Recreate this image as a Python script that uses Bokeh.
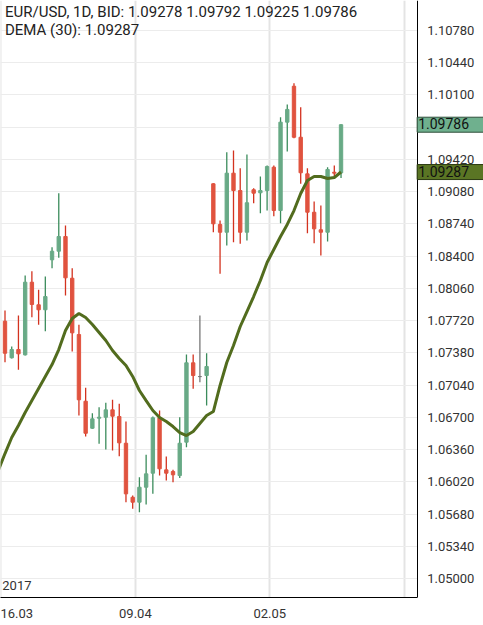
import numpy as np
from bokeh.plotting import figure
from bokeh.models import (ColumnDataSource, FixedTicker, Range1d, Label, PrintfTickFormatter,
                          LinearAxis, BoxAnnotation)
from bokeh.embed import file_html
from bokeh.resources import INLINE

# ---- data (daily EUR/USD candles) ----
opens = [1.07714, 1.07328, 1.07415, 1.07359, 1.08125, 1.07887, 1.07834, 1.08361, 1.08452, 1.08607,
         1.08167, 1.07573, 1.06870, 1.06585, 1.06691, 1.06701, 1.06779, 1.06709, 1.06427, 1.05857,
         1.05805, 1.05963, 1.06111, 1.06695, 1.06146, 1.06129, 1.06086, 1.06438, 1.07275, 1.07130,
         1.07141, 1.09163, 1.08734, 1.08652, 1.09275, 1.09092, 1.08652, 1.09100, 1.09068, 1.09092,
         1.09338, 1.08881, 1.09813, 1.10192, 1.09654, 1.09268, 1.08863, 1.08678, 1.08652, 1.09285,
         1.09278]
highs = [1.07827, 1.07447, 1.07774, 1.08196, 1.08241, 1.08045, 1.08185, 1.08494, 1.09064, 1.08723,
         1.08273, 1.07676, 1.07011, 1.06743, 1.06807, 1.06853, 1.06885, 1.06843, 1.06656, 1.05875,
         1.06068, 1.06305, 1.06709, 1.06772, 1.06287, 1.06146, 1.06701, 1.07363, 1.07363, 1.07774,
         1.07376, 1.09170, 1.08776, 1.09496, 1.09514, 1.09327, 1.09472, 1.09117, 1.09240, 1.09356,
         1.09356, 1.09865, 1.09999, 1.10224, 1.09971, 1.09327, 1.08976, 1.08934, 1.09338, 1.09356,
         1.09792]
lows = [1.07281, 1.07320, 1.07201, 1.07352, 1.07756, 1.07676, 1.07608, 1.08273, 1.08382, 1.07985,
        1.07394, 1.06719, 1.06498, 1.06580, 1.06421, 1.06361, 1.06350, 1.06290, 1.05805, 1.05735,
        1.05699, 1.05780, 1.05893, 1.06086, 1.06034, 1.06016, 1.06060, 1.06385, 1.07001, 1.07070,
        1.06825, 1.08652, 1.08214, 1.08512, 1.08547, 1.08530, 1.08565, 1.08958, 1.08853, 1.08881,
        1.08821, 1.08747, 1.09504, 1.09644, 1.09163, 1.08642, 1.08536, 1.08407, 1.08554, 1.09240,
        1.09225]
closes = [1.07376, 1.07415, 1.07370, 1.08125, 1.07890, 1.07834, 1.07974, 1.08452, 1.08607, 1.08171,
          1.07591, 1.06885, 1.06532, 1.06684, 1.06701, 1.06779, 1.06712, 1.06431, 1.05893, 1.05805,
          1.05963, 1.06104, 1.06695, 1.06157, 1.06111, 1.06094, 1.06427, 1.07275, 1.07141, 1.07130,
          1.07236, 1.08741, 1.08652, 1.09275, 1.09092, 1.08652, 1.08963, 1.09064, 1.09092, 1.09345,
          1.08881, 1.09813, 1.09947, 1.09654, 1.09279, 1.08863, 1.08688, 1.08652, 1.09314, 1.09275,
          1.09786]
# DEMA(30), starting one candle before the first visible one
dema = [1.06139, 1.06318, 1.06487, 1.06614, 1.06751, 1.06877, 1.07004, 1.07131, 1.07257, 1.07415,
        1.07616, 1.07742, 1.07795, 1.07753, 1.07679, 1.07595, 1.07510, 1.07405, 1.07320, 1.07247,
        1.07131, 1.06983, 1.06877, 1.06772, 1.06698, 1.06656, 1.06603, 1.06540, 1.06508, 1.06550,
        1.06635, 1.06719, 1.06761, 1.07036, 1.07278, 1.07458, 1.07658, 1.07816, 1.07974, 1.08143,
        1.08333, 1.08470, 1.08607, 1.08734, 1.08881, 1.09061, 1.09198, 1.09240, 1.09240, 1.09219,
        1.09229, 1.09287]
date_ticks = [0, 20, 40, 60]
date_labels = ["16.03", "09.04", "02.05", ""]
price_ticks = [1.05000, 1.05340, 1.05680, 1.06020, 1.06360, 1.06700, 1.07040, 1.07380, 1.07720,
               1.08060, 1.08400, 1.08740, 1.09080, 1.09420, 1.09760, 1.10100, 1.10440, 1.10780, 1.11120]
header_1 = "EUR/USD, 1D, BID: 1.09278 1.09792 1.09225 1.09786"
header_2 = "DEMA (30): 1.09287"
year_label = "2017"
last_close = 1.09786
last_dema = 1.09287

FONT = "Roboto"
UP_BODY, UP_WICK = "#68aa86", "#3b8c5c"
DN_BODY, DN_WICK = "#e0533f", "#d3321f"
DOJI = "#777777"
X_MIN, X_AXIS, X_MAX = -0.07, 61.93, 71.80   # data extent of frame; price axis position

n = len(opens)
xs = np.arange(n) + 0.6
o = np.array(opens); c = np.array(closes)
body_col = [UP_BODY if cc > oo else (DN_BODY if cc < oo else DOJI) for oo, cc in zip(o, c)]
wick_col = [UP_WICK if cc > oo else (DN_WICK if cc < oo else DOJI) for oo, cc in zip(o, c)]
src = ColumnDataSource(dict(x=xs, high=highs, low=lows, top=np.maximum(o, c), bottom=np.minimum(o, c),
                            body=body_col, wick=wick_col))

p = figure(width=483, height=625, output_backend="svg", toolbar_location=None,
           x_range=Range1d(X_MIN, X_MAX), y_range=Range1d(1.04800, 1.11096),
           y_axis_location=None, min_border_left=0, min_border_top=0,
           min_border_right=0, min_border_bottom=28)
p.outline_line_color = None
p.background_fill_color = "white"

# grids
p.xgrid.ticker = FixedTicker(ticks=date_ticks)
p.xgrid.grid_line_color = "#e4e4e4"
p.xgrid.grid_line_width = 2
p.ygrid.ticker = FixedTicker(ticks=price_ticks)
p.ygrid.grid_line_color = "#ececec"
p.ygrid.grid_line_width = 1
# blank out the price-scale strip right of the axis
p.add_layout(BoxAnnotation(left=X_AXIS, fill_color="white", fill_alpha=1.0, line_color=None,
                           level="underlay"))

p.segment(x0="x", y0="low", x1="x", y1="high", line_color="wick", line_width=1.3, source=src)
p.vbar(x="x", width=0.5, top="top", bottom="bottom", fill_color="body", line_color="body",
       line_width=1, source=src)
p.line(np.arange(-1, n) + 0.6, dema, line_color="#526c1e", line_width=3)

# x axis
xa = p.xaxis[0]
xa.ticker = FixedTicker(ticks=date_ticks)
xa.bounds = (X_MIN, X_AXIS)
xa.major_label_overrides = {t: l for t, l in zip(date_ticks, date_labels)}
xa.major_tick_line_color = None
xa.minor_tick_line_color = None
xa.axis_line_color = "black"
xa.major_label_text_font = FONT
xa.major_label_text_font_size = "13px"
xa.major_label_text_color = "#333333"
xa.major_label_text_align = "left"
xa.major_label_standoff = 5

# price axis, fixed at the right edge of the candle area
ya = LinearAxis(fixed_location=X_AXIS, ticker=FixedTicker(ticks=price_ticks),
                formatter=PrintfTickFormatter(format="%.5f"))
ya.major_tick_line_color = None
ya.minor_tick_line_color = None
ya.axis_line_color = "black"
ya.major_label_text_font = FONT
ya.major_label_text_font_size = "13px"
ya.major_label_text_color = "#333333"
ya.major_label_standoff = 4
p.add_layout(ya, "right")

# header texts
p.add_layout(Label(x=0.6, y=1.10972, text=header_1, text_font=FONT, text_font_size="15px",
                   text_color="#222222", text_baseline="middle"))
p.add_layout(Label(x=0.6, y=1.10781, text=header_2, text_font=FONT, text_font_size="15px",
                   text_color="#222222", text_baseline="middle"))
p.add_layout(Label(x=0.2, y=1.04926, text=year_label, text_font=FONT, text_font_size="13px",
                   text_color="#333333", text_baseline="middle"))

# price boxes on the price axis
for val, fill, border in [(last_close, "#6fb08e", "#2f4f3a"), (last_dema, "#5a7524", "#2b3a12")]:
    p.add_layout(Label(x=X_AXIS, y=val, text=f"{val:.5f}", text_font=FONT, text_font_size="14px",
                       text_color="#111111", text_baseline="middle", background_fill_color=fill,
                       border_line_color=border, padding=(1, 30, 1, 3), level="overlay"))

open("out.html", "w").write(file_html(p, INLINE))
